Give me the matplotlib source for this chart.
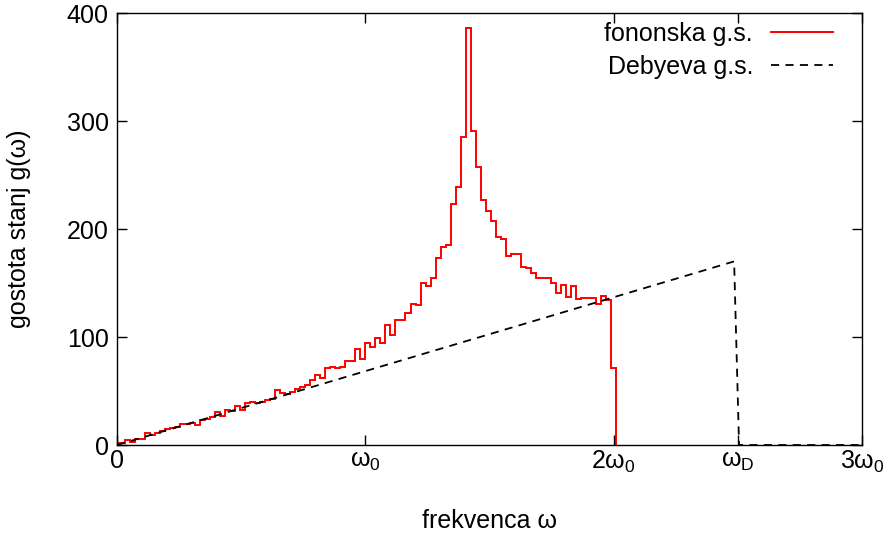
import numpy as np
import matplotlib
matplotlib.use("Agg")
import matplotlib.pyplot as plt

plt.rcParams['font.family'] = ['Liberation Sans', 'DejaVu Sans']
plt.rcParams['mathtext.fontset'] = 'custom'
plt.rcParams['mathtext.rm'] = 'Liberation Sans'
plt.rcParams['mathtext.it'] = 'Liberation Sans'

# phonon density of states histogram (centres from 0 to 2 omega_0)
omega_start = 0.0
omega_end = 2.0
g_fonon = [1.5, 2, 5, 3, 5.5, 6, 11, 9.5, 11, 13,
           14.5, 16, 17, 19, 19, 20, 18.5, 23.5, 24, 26,
           31, 27, 32, 31.5, 36, 32.5, 39, 40, 38.5, 40,
           41.5, 42.5, 51, 48, 47, 49.5, 51.5, 54, 55.5, 60,
           65, 62, 71, 72.5, 71, 72.5, 78, 78, 88.5, 80,
           94, 91, 99, 94, 111, 102, 116, 116, 122, 131,
           130, 150, 147, 155, 173, 183.5, 185, 223, 239, 285,
           386, 291, 257, 227, 217, 207, 193, 191, 175, 177,
           177, 165, 163.5, 159, 155, 155, 155, 150, 141, 148,
           137, 147, 135, 136.5, 136, 136.5, 130.5, 138, 134, 71]

# Debye density of states
omega_debye = [0.0, 2.485, 2.505, 3.0]
g_debye = [0.0, 170.0, 0.0, 0.0]

xtick_vals = [0, 1, 2, 2.5, 3]
xtick_labels = ['0', r'ω$_\mathregular{0}$', r'2ω$_\mathregular{0}$',
                r'ω$_\mathregular{D}$', r'3ω$_\mathregular{0}$']
ytick_vals = [0, 100, 200, 300, 400]

FS = 18

fig = plt.figure(figsize=(8.84, 5.35), dpi=100)
ax = fig.add_axes([0.1324, 0.1682, 0.9751 - 0.1324, 0.9757 - 0.1682])

n = len(g_fonon)
centers = np.linspace(omega_start, omega_end, n)
w = centers[1] - centers[0]
edges = np.concatenate([centers - w / 2, [centers[-1] + w / 2]])

ax.stairs(g_fonon, edges, baseline=0, color='#ff0000', lw=1.4,
          label='fononska g.s.')
ax.plot(omega_debye, g_debye, color='black', lw=1.3, ls=(0, (4.5, 3.5)),
        label='Debyeva g.s.')

ax.set_xlim(0, 3)
ax.set_ylim(0, 400)
ax.set_xticks(xtick_vals)
ax.set_xticklabels(xtick_labels)
ax.set_yticks(ytick_vals)

ax.tick_params(direction='in', top=True, right=True, length=7, width=1,
               labelsize=FS)
ax.tick_params(axis='x', pad=3)
ax.tick_params(axis='y', pad=6)
for s in ax.spines.values():
    s.set_linewidth(1.0)

ax.set_xlabel('frekvenca ω', fontsize=FS, labelpad=24)
ax.set_ylabel('gostota stanj g(ω)', fontsize=FS, labelpad=26)

leg = ax.legend(loc='upper right', frameon=False, markerfirst=False,
                fontsize=FS, handlelength=2.5, labelspacing=0.36,
                handletextpad=0.7, borderpad=0, borderaxespad=0,
                bbox_to_anchor=(833 / 884, 1 - 22 / 535),
                bbox_transform=fig.transFigure)

fig.savefig('out.png', dpi=100)
